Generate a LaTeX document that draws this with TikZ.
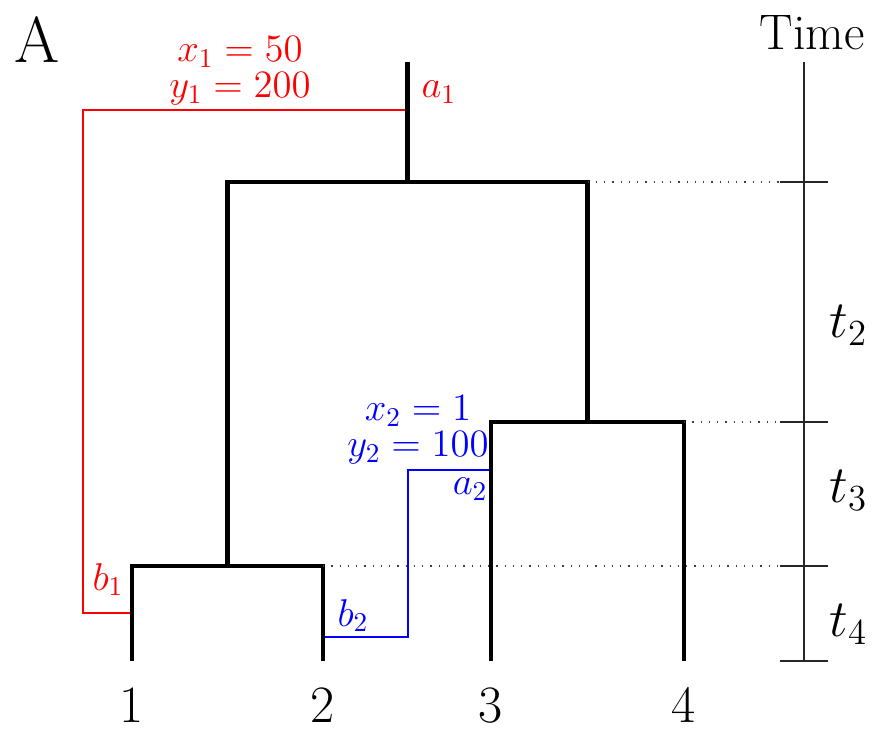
\RequirePackage{fix-cm}
\documentclass[tikz,border=0pt]{standalone}
\usetikzlibrary{calc}

\begin{document}
\begin{tikzpicture}[
  x=0.4pt, y=-0.4pt,
  branch/.style={draw=black, line width=1.8pt},
  axisline/.style={draw=black!85, line width=0.5pt},
  guide/.style={draw=black!75, line width=0.5pt, dash pattern=on 0.5pt off 2.8pt},
  migr/.style={line width=0.5pt},
  mlbl/.style={inner sep=0pt, font=\fontsize{15.5}{14.4}\selectfont},
  biglbl/.style={inner sep=0pt, font=\fontsize{21}{25}\selectfont},
]
\useasboundingbox (0,0) rectangle (878,730);
\def\yroot{182}  % root split
\def\ysplitB{422} % split of 3 and 4
\def\ysplitC{566} % split of 1 and 2
\def\yleaf{661}  % present

% ---- leaves and their labels ----
\foreach \i/\x in {1/132,2/323,3/491,4/684}{
  \coordinate (l\i) at (\x,\yleaf);
  \node[biglbl, anchor=base] (lbl\i) at (\x,722) {\i};
}
\coordinate (n12)  at (227.5,\ysplitC);
\coordinate (n34)  at (587.5,\ysplitB);
\coordinate (root) at (407.5,\yroot);
\coordinate (stem) at (407.5,62);

% ---- migration paths (under the tree) ----
\coordinate (a1) at (407.5,110);
\coordinate (b1) at (132,613);
\draw[migr, red] (a1) -- ++(-324.5,0) |- (b1);
\coordinate (a2) at (491,470);
\coordinate (b2) at (323,637);
\draw[migr, blue] (a2) -- ++(-83,0) |- (b2);

% ---- tree ----
\draw[branch] (l1) |- (n12) -| (l2);
\draw[branch] (l3) |- (n34) -| (l4);
\draw[branch] (n12) |- (root) -| (n34);
\draw[branch] (root) -- (stem);

% ---- time axis ----
\coordinate (ttop) at (804,62);
\coordinate (tbot) at (804,\yleaf);
\draw[axisline] (ttop) -- (tbot);
\foreach \c in {root,n34,n12,tbot}
  \draw[axisline] ($(ttop |- \c)+(-24,0)$) -- ++(48,0);
\draw[guide] (n34 |- root) -- ($(ttop |- root)+(-24,0)$);
\draw[guide] (l4 |- n34) -- ($(ttop |- n34)+(-24,0)$);
\draw[guide] (l2 |- n12) -- ($(ttop |- n12)+(-24,0)$);

\node[biglbl, anchor=base west] (t2) at (829,338) {$t_2$};
\node[biglbl, anchor=base west] (t3) at (829,503) {$t_3$};
\node[biglbl, anchor=base west] (t4) at (829,637) {$t_4$};
\node[inner sep=0pt, font=\fontsize{20}{24}\selectfont, anchor=base] (timelbl) at (812,50) {Time};
\node[inner sep=0pt, font=\fontsize{26}{30}\selectfont, anchor=base west] (panel) at (14,63) {A};

% ---- migration labels ----
\node[mlbl, text=red, anchor=base west] (a1lbl) at (421,98) {$a_1$};
\node[mlbl, text=red, anchor=base east] (b1lbl) at (124,590) {$b_1$};
\node[mlbl, text=red, align=center, anchor=south] (par1) at (240,106) {$x_1=50$\\$y_1=200$};
\node[mlbl, text=blue, anchor=base east] (a2lbl) at (488,495) {$a_2$};
\node[mlbl, text=blue, anchor=base west] (b2lbl) at (337,626) {$b_2$};
\node[mlbl, text=blue, align=center, anchor=south] (par2) at (418,465) {$x_2=1$\\$y_2=100$};
\end{tikzpicture}
\end{document}
